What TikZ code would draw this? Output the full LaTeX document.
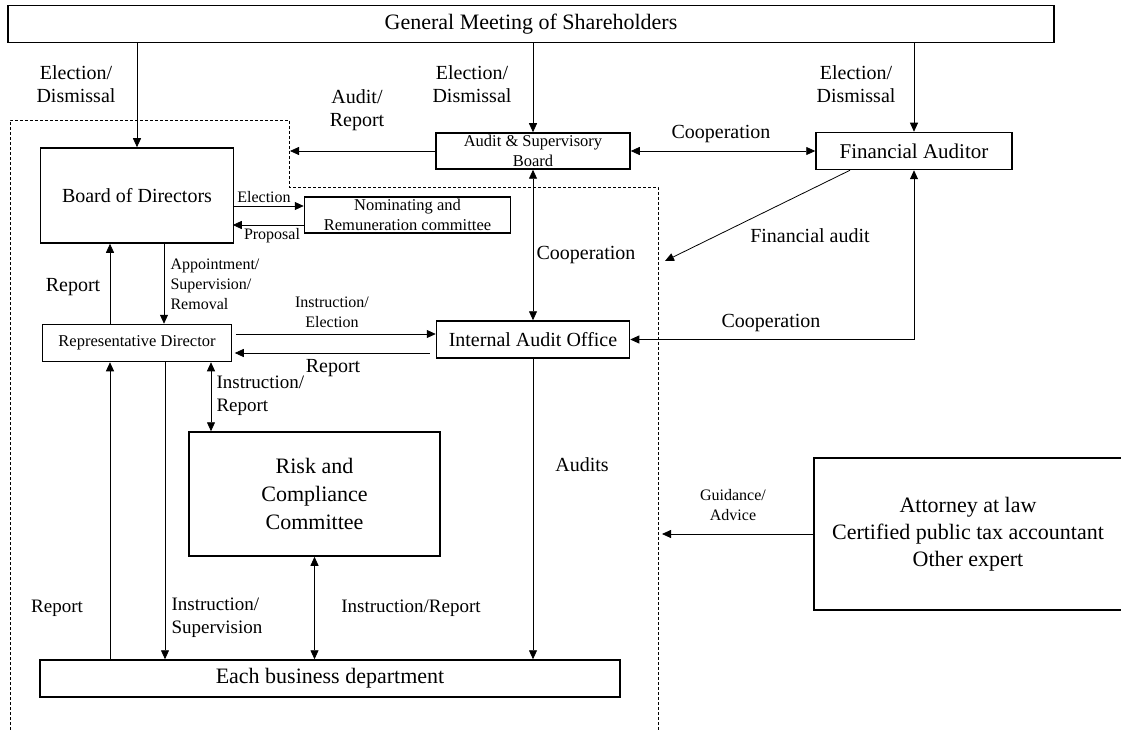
\documentclass[tikz,border=0pt]{standalone}
\usepackage{fontspec}
\setmainfont{Liberation Serif}
\usepackage{tikz}
\usetikzlibrary{arrows.meta,calc}
\def\tipT{Triangle[length=9pt,width=8pt]}

\tikzset{
  box/.style={draw, line width=1.5pt, align=center, inner sep=0pt},
  arr/.style={line width=0.8pt, -{\tipT}},
  darr/.style={line width=0.8pt, {\tipT}-{\tipT}},
  region/.style={line width=0.8pt, dash pattern=on 3pt off 2pt},
  lbl/.style={align=center, font=\fontsize{20}{23}\selectfont},
  lblsmall/.style={align=center, font=\fontsize{16}{20}\selectfont},
}

\begin{document}
\begin{tikzpicture}[x=1pt,y=-1pt]
\useasboundingbox (0,0) rectangle (1121,730);

% boxes
\node [box, minimum width=1046pt, minimum height=37pt, font=\fontsize{22}{26}\selectfont] (gm) at (531,24) {General Meeting of Shareholders};
\node [box, minimum width=193pt, minimum height=95pt, font=\fontsize{20}{24}\selectfont] (bod) at (137,195.5) {Board of Directors};
\node [box, minimum width=194pt, minimum height=36pt, font=\fontsize{16.5}{20}\selectfont] (asb) at (533,151) {Audit \& Supervisory\\Board};
\node [box, minimum width=196pt, minimum height=37pt, font=\fontsize{21}{24}\selectfont] (fa) at (914,151) {Financial Auditor};
\node [box, minimum width=206pt, minimum height=36pt, font=\fontsize{16.5}{20}\selectfont] (nrc) at (407.5,215) {Nominating and\\Remuneration committee};
\node [box, minimum width=189pt, minimum height=37pt, font=\fontsize{16.5}{20}\selectfont] (rd) at (137,343) {Representative Director};
\node [box, minimum width=193pt, minimum height=37pt, font=\fontsize{20}{24}\selectfont] (iao) at (533,339.5) {Internal Audit Office};
\node [box, minimum width=251pt, minimum height=124pt, font=\fontsize{22}{28}\selectfont] (rcc) at (314.5,494) {Risk and\\Compliance\\Committee};
\node [box, minimum width=580pt, minimum height=37pt, font=\fontsize{22}{26}\selectfont] (ebd) at (330,678.5) {Each business department};
\node [box, minimum width=308pt, minimum height=152pt, font=\fontsize{22}{27}\selectfont] (att) at (968,534) {Attorney at law\\Certified public tax accountant\\Other expert};

% dotted company area
\draw [region] (10,740) -- (10,120) -- (289,120) -- (289,187) -- (658,187) -- (658,740);
\coordinate (auditend) at (290,151);
\coordinate (finend) at (665,261);
\coordinate (advend) at (662,534);

% connectors
\draw [arr] (gm.south -| bod.north) -- (bod.north);
\draw [arr] (gm.south -| asb.north) -- (asb.north);
\draw [arr] (gm.south -| fa.north) -- (fa.north);
\draw [arr] (asb.west) -- (auditend);
\draw [darr] (asb.east) -- (fa.west);
\draw [darr] (asb.south) -- (asb.south |- iao.north);
\draw [arr] ($(fa.south)+(-64,0)$) -- (finend);
\draw [darr] (iao.east) -- (iao.east -| fa.south) -- (fa.south);
\draw [arr] ($(nrc.west)+(-71,-9)$) -- ($(nrc.west)+(0,-9)$);
\draw [arr] ($(nrc.west)+(0,10)$) -- ($(nrc.west)+(-71,10)$);
\draw [arr] ($(rd.north)+(-27,0)$) -- ($(bod.south)+(-27,0)$);
\draw [arr] ($(bod.south)+(27,0)$) -- ($(rd.north)+(27,0)$);
\draw [arr] ($(iao.west)+(-200,-5.5)$) -- ($(iao.west)+(0,-5.5)$);
\draw [arr] ($(iao.west)+(-6,13.5)$) -- ($(iao.west)+(-201,13.5)$);
\draw [darr] ($(rd.south)+(74,0)$) -- ($(rd.south |- rcc.north)+(74,0)$);
\draw [arr] ($(rd.south |- ebd.north)+(-27,0)$) -- ($(rd.south)+(-27,0)$);
\draw [arr] ($(rd.south)+(28,0)$) -- ($(rd.south |- ebd.north)+(28,0)$);
\draw [darr] (rcc.south) -- (rcc.south |- ebd.north);
\draw [arr] (iao.south) -- (iao.south |- ebd.north);
\draw [arr] (att.west) -- (advend);

% labels
\node [lbl] (lgmbod) at (76,84) {Election/\\Dismissal};
\node [lbl] (lgmasb) at (472,84) {Election/\\Dismissal};
\node [lbl] (lgmfa) at (856,84) {Election/\\Dismissal};
\node [lbl] (laudit) at (357,110) {Audit/\\Report};
\node [lbl] (lcoopfa) at (721,134) {Cooperation};
\node [lbl] (lcoopiao) at (586,255) {Cooperation};
\node [lbl] (lfin) at (810,236) {Financial audit};
\node [lbl] (lcoopext) at (771,323) {Cooperation};
\node [lblsmall] (lelect) at (264,197) {Election};
\node [lblsmall] (lprop) at (272,236) {Proposal};
\node [lbl] (lrepbod) at (73,287) {Report};
\node [lblsmall, align=left, anchor=west] (lappt) at (167,284) {Appointment/\\Supervision/\\Removal};
\node [lblsmall] (linstriao) at (332,312) {Instruction/\\Election};
\node [lbl] (lrepiao) at (333,368) {Report};
\node [lbl, font=\fontsize{19}{23}\selectfont, align=left, anchor=west] (linstrrcc) at (213,396) {Instruction/\\Report};
\node [lbl, font=\fontsize{19}{23}\selectfont] (lrepebd) at (57,608) {Report};
\node [lbl, font=\fontsize{19}{23}\selectfont, align=left, anchor=west] (linstrebd) at (168,618) {Instruction/\\Supervision};
\node [lbl, font=\fontsize{19}{23}\selectfont] (linstrrep) at (411,608) {Instruction/Report};
\node [lbl] (laudits) at (582,465) {Audits};
\node [lblsmall] (lguid) at (733,505) {Guidance/\\Advice};
\end{tikzpicture}
\end{document}
